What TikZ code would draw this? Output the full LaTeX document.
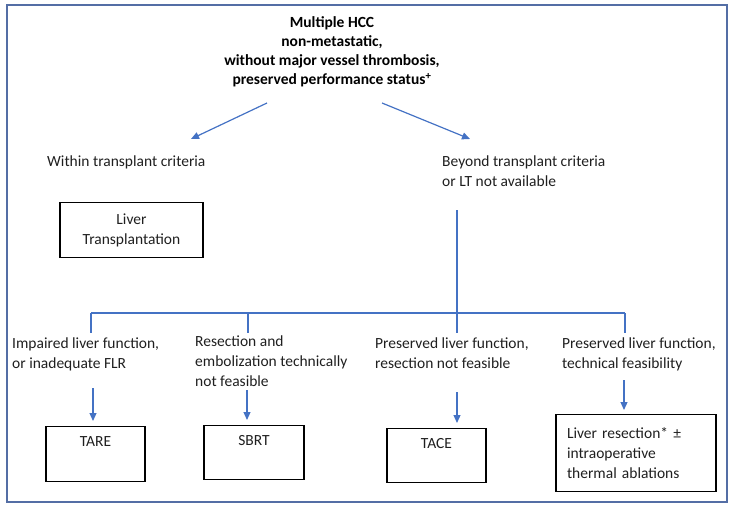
\documentclass[tikz,border=0pt]{standalone}
\usepackage{fontspec}
\setmainfont{Carlito}
\usetikzlibrary{arrows.meta}

\definecolor{marco}{RGB}{84,110,165}
\definecolor{azul}{RGB}{68,114,196}

\tikzstyle{texto}= [inner sep=0pt,align=left,anchor=north west,text=black!88,font=\fontsize{15.5}{20}\selectfont]
\tikzstyle{titulo}= [inner sep=0pt,align=center,anchor=north,text=black,font=\bfseries\fontsize{15.5}{19}\selectfont]
\tikzstyle{caja}= [rectangle,draw,black,line width=1.3pt,inner sep=0pt,anchor=north,text=black!88,text height=20pt,text depth=35pt,font=\fontsize{15.5}{20}\selectfont]
\tikzstyle{cajados}= [rectangle,draw,black,line width=1.3pt,inner sep=0pt,anchor=north,text=black!88,align=center,font=\fontsize{15.5}{20}\selectfont]
\tikzstyle{linea}= [azul,line width=1.2pt]
\tikzstyle{flecha}= [azul,line width=1.2pt,-{Triangle[length=8pt,width=7pt]},shorten >=5pt]

\begin{document}
\begin{tikzpicture}[x=1pt,y=-1pt]

		\useasboundingbox (0,0) rectangle (734,511);
		\draw[marco,line width=2pt] (7,5) rectangle (727,502);

		\node (tit) at (332,16.6) [titulo] {Multiple HCC\\non-metastatic,\\without major vessel thrombosis,\\preserved performance status\textsuperscript{+}};

		\node (dentro) at (47,155.6) [texto] {Within transplant criteria};
		\node (fuera) at (442,155.6) [texto] {Beyond transplant criteria\\or LT not available};

		\node (tx) at (131.5,202) [cajados,minimum width=143pt,minimum height=55pt] {Liver\\Transplantation};

		\node (c1) at (12,337.6) [texto] {Impaired liver function,\\or inadequate FLR};
		\node (c2) at (195,335.6) [texto] {Resection and\\embolization technically\\not feasible};
		\node (c3) at (375,337.6) [texto] {Preserved liver function,\\resection not feasible};
		\node (c4) at (562,337.6) [texto] {Preserved liver function,\\technical feasibility};

		\node (tare) at (95.5,426) [caja,minimum width=99pt] {TARE};
		\node (sbrt) at (254,425) [caja,minimum width=100pt,text depth=34pt] {SBRT};
		\node (tace) at (436.5,428) [caja,minimum width=99pt,text depth=34pt] {TACE};
		\node (lr) at (636,414) [cajados,align=left,text width=138pt,inner xsep=11pt,minimum height=77pt] {Liver resection* ±\\intraoperative\\thermal ablations};

		% puntos del arbol
		\coordinate (t1) at (267,103);
		\coordinate (t2) at (382,103);
		\coordinate (w1) at (191,139);
		\coordinate (w2) at (470,139);
		\coordinate (b1) at (457,210);
		\coordinate (h1) at (91,313);
		\coordinate (h2) at (248,313);
		\coordinate (h4) at (625,313);
		\coordinate (d1) at (91,333);
		\coordinate (d2) at (248,333);
		\coordinate (d3) at (457,333);
		\coordinate (d4) at (625,333);
		\coordinate (a1) at (93,388);
		\coordinate (a2) at (247,390);
		\coordinate (a3) at (457,392);
		\coordinate (a4) at (624,380);

		\draw[flecha,shorten >=0pt] (t1) -- (w1);
		\draw[flecha,shorten >=0pt] (t2) -- (w2);

		\draw[linea] (b1) -- (d3);
		\draw[linea] (h1) -- (h4);
		\draw[linea] (h1) -- (d1);
		\draw[linea] (h2) -- (d2);
		\draw[linea] (h4) -- (d4);

		\draw[flecha] (a1) -- (a1 |- tare.north);
		\draw[flecha] (a2) -- (a2 |- sbrt.north);
		\draw[flecha] (a3) -- (a3 |- tace.north);
		\draw[flecha,shorten >=4pt] (a4) -- (a4 |- lr.north);

\end{tikzpicture}
\end{document}
